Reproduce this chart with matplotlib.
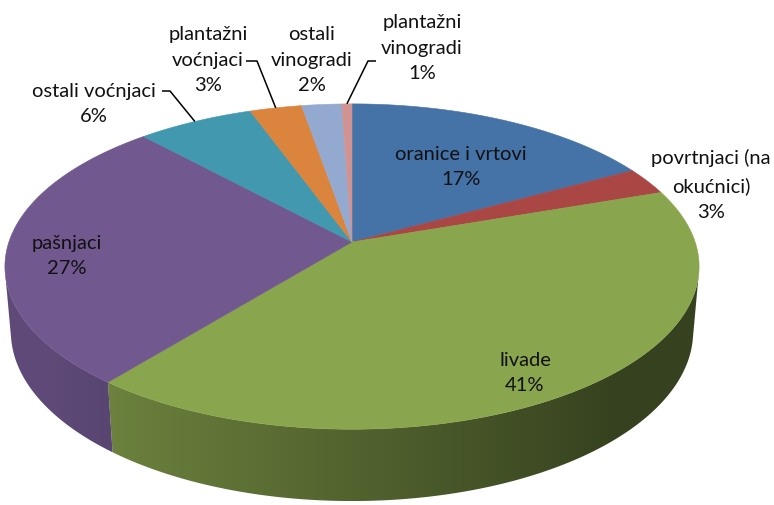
import numpy as np
import matplotlib
matplotlib.use("Agg")
import matplotlib.pyplot as plt
from matplotlib.colors import to_rgb

# ---------------- data ----------------
categories = ["oranice i vrtovi", "povrtnjaci (na\nokućnici)", "livade", "pašnjaci",
              "ostali voćnjaci", "plantažni\nvoćnjaci", "ostali\nvinogradi",
              "plantažni\nvinogradi"]
values = [17.0, 2.7, 41.1, 27.4, 6.3, 2.8, 2.15, 0.55]
colors = ["#4572A7", "#AA4643", "#89A54E", "#71588F", "#4198AF", "#DB843D",
          "#93A9CF", "#D19392"]

# ---------------- layout ----------------
label_pos = [(461, 167), (711, 185), (525, 373), (67, 256), (94, 104),
             (208, 60), (312, 60), (422, 48)]
# label-side part of leader lines (None = no leader)
leader_start = [None, None, None, None, [(162, 92), (170, 92)],
                [(246, 62), (257, 62)], None, [(376, 62), (368, 62)]]

W, H = 774, 506
cx, cy = 352, 243          # pixel position of pie centre
elev = np.radians(27.6)    # view elevation
dist = 5.87                # camera distance (radii)
scale = 2014.0             # projection scale
thick = 0.215              # pie thickness (radii)
se, ce = np.sin(elev), np.cos(elev)


def project(x, y, z):
    ry = y + dist * ce
    rz = z - dist * se
    depth = ry * ce - rz * se
    sx = x / depth
    sy = (ry * se + rz * ce) / depth
    return cx + scale * sx, cy - scale * sy


def rim(theta_deg, z=0.0, r=1.0):
    t = np.radians(theta_deg)
    return project(r * np.sin(t), r * np.cos(t), z)


def shade(theta_deg):
    return np.clip(0.6 - 0.3 * np.sin(np.radians(theta_deg)), 0.4, 0.84)


fig = plt.figure(figsize=(W / 100, H / 100), dpi=100)
ax = fig.add_axes([0, 0, 1, 1])

vals = np.array(values, dtype=float)
bounds = np.concatenate([[0], np.cumsum(vals)]) / vals.sum() * 360.0

# silhouette of the cylinder wall
th_s = np.degrees(np.arccos(-1.0 / (dist * ce)))
th_front = np.linspace(th_s, 360 - th_s, 800)
x_front, _ = rim(th_front)
xgrid = np.arange(W) + 0.5
theta_of_x = np.interp(xgrid, x_front[::-1], th_front[::-1])
fx = shade(theta_of_x)

# ---- side walls (gradient, clipped to wall outline) ----
for i, c in enumerate(colors):
    lo = max(bounds[i], th_s)
    hi = min(bounds[i + 1], 360 - th_s)
    if hi <= lo:
        continue
    ts = np.linspace(lo, hi, max(2, int((hi - lo) / 0.25) + 1))
    xt, yt = rim(ts)
    xb, yb = rim(ts[::-1], -thick)
    outline = list(zip(xt, yt)) + list(zip(xb, yb))
    base = np.array(to_rgb(c))
    img = (fx[:, None] * base[None, :])[None, :, :]
    poly = plt.Polygon(outline, closed=True, facecolor="none", edgecolor="none")
    ax.add_patch(poly)
    im = ax.imshow(img, extent=(0, W, H, 0), aspect="auto",
                   interpolation="bilinear", zorder=1)
    im.set_clip_path(poly)

# ---- top faces ----
apex = project(0, 0, 0)
for i, c in enumerate(colors):
    a0, a1 = bounds[i], bounds[i + 1]
    ts = np.linspace(a0, a1, max(2, int((a1 - a0) / 0.25) + 1))
    xs, ys = rim(ts)
    pts = [apex] + list(zip(xs, ys))
    ax.add_patch(plt.Polygon(pts, closed=True, facecolor=c, edgecolor=c,
                             linewidth=0.4, zorder=2))

# ---- labels ----
font = ["Lato", "DejaVu Sans"]
for i, name in enumerate(categories):
    pct = int(np.floor(vals[i] / vals.sum() * 100 + 0.5))
    txt = f"{name}\n{pct}%"
    ax.text(label_pos[i][0], label_pos[i][1], txt, ha="center", va="center",
            fontsize=14.5, family=font, color="#111111", linespacing=1.63,
            multialignment="center", zorder=4)
    if leader_start[i] is not None:
        mid = 0.5 * (bounds[i] + bounds[i + 1])
        ex, ey = rim(mid)
        pts = leader_start[i] + [(ex, ey)]
        ax.plot([p[0] for p in pts], [p[1] for p in pts], color="black",
                lw=1.1, zorder=3, solid_capstyle="butt")

ax.set_xlim(0, W)
ax.set_ylim(H, 0)
ax.axis("off")
fig.savefig("out.png", dpi=100)
